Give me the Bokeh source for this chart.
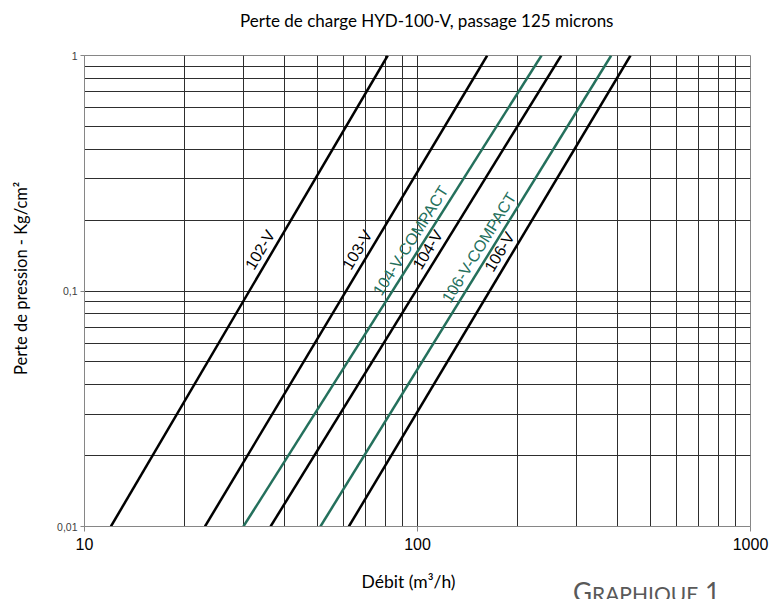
import math
from bokeh.plotting import figure
from bokeh.layouts import column
from bokeh.models import FixedTicker, ColumnDataSource, CustomJSTickFormatter, Div
from bokeh.core.properties import value
from bokeh.embed import file_html
from bokeh.resources import INLINE

# ---------------- data ----------------
series_names = ["102-V", "103-V", "104-V-COMPACT", "104-V", "106-V-COMPACT", "106-V"]
pressure_ends = [0.01, 1.0]                       # Kg/cm2 at both ends of each line
flow_at_low = [12.0, 23.0, 30.0, 36.2, 51.1, 62.2]        # m3/h at 0.01 Kg/cm2
flow_at_high = [81.4, 161.9, 235.7, 270.1, 381.6, 436.1]  # m3/h at 1 Kg/cm2
label_pressure = [0.142, 0.142, 0.155, 0.142, 0.145, 0.139]
series_colors = ["#000000", "#000000", "#24705C", "#000000", "#24705C", "#000000"]

x_major_ticks = [10, 100, 1000]
x_minor_ticks = [20, 30, 40, 50, 60, 70, 80, 90, 200, 300, 400, 500, 600, 700, 800, 900]
x_tick_labels = ["10", "100", "1000"]
y_major_ticks = [0.01, 0.1, 1]
y_minor_ticks = [0.02, 0.03, 0.04, 0.05, 0.06, 0.07, 0.08, 0.09,
                 0.2, 0.3, 0.4, 0.5, 0.6, 0.7, 0.8, 0.9]
y_tick_labels = ["0,01", "0,1", "1"]

title_text = "Perte de charge HYD-100-V, passage 125 microns"
x_title = "Débit (m³/h)"
y_title = "Perte de pression - Kg/cm²"
caption_first, caption_rest, caption_num = "G", "raphique", " 1"

# ---------------- layout sizes ----------------
W = 771
TITLE_H = 40
H = 599 - TITLE_H
BL, BR, BT, BB = 84, 21, 15, 73
NBSP = "\u00a0"

# ---------------- title (HTML, above the figure) ----------------
title_div = Div(
    text=('<div style="font-family:Lato; font-size:17px; line-height:42px; color:#000000; '
          'white-space:nowrap; padding-left:240px;">' + title_text + '</div>'),
    width=W, height=TITLE_H, margin=(0, 0, 0, 0),
)

# ---------------- figure ----------------
p = figure(width=W, height=H, x_axis_type="log", y_axis_type="log",
           x_range=(10, 1000), y_range=(0.01, 1),
           output_backend="svg", toolbar_location=None,
           min_border_left=BL, min_border_right=BR, min_border_top=BT, min_border_bottom=BB)

p.outline_line_color = "#868686"
p.outline_line_width = 1
p.background_fill_color = "white"
p.border_fill_color = "white"

p.xaxis.ticker = FixedTicker(ticks=x_major_ticks, minor_ticks=x_minor_ticks)
p.yaxis.ticker = FixedTicker(ticks=y_major_ticks, minor_ticks=y_minor_ticks)

fmt_code = """
let best = 0; let bd = 1e9;
for (let i = 0; i < vals.length; i++) {
  const d = Math.abs(Math.log10(tick) - Math.log10(vals[i]));
  if (d < bd) { bd = d; best = i; }
}
return labs[best];
"""
p.xaxis.formatter = CustomJSTickFormatter(args=dict(vals=x_major_ticks, labs=x_tick_labels), code=fmt_code)
p.yaxis.formatter = CustomJSTickFormatter(args=dict(vals=y_major_ticks, labs=y_tick_labels), code=fmt_code)

for ax in (p.xaxis[0], p.yaxis[0]):
    ax.axis_line_color = "#868686"
    ax.axis_line_width = 1
    ax.major_tick_line_color = "#868686"
    ax.major_tick_in = 0
    ax.minor_tick_line_color = None
    ax.major_label_text_font = "Liberation Sans"
    ax.axis_label_text_font = "Lato"
    ax.axis_label_text_font_style = "normal"
    ax.axis_label_text_color = "#000000"

p.xaxis.major_tick_out = 5
p.xaxis.major_label_text_font_size = "16px"
p.xaxis.major_label_text_color = "#000000"
p.xaxis.major_label_standoff = 6
# trailing no-break spaces nudge the centred label a little to the left, as in the original
p.xaxis.axis_label = x_title + NBSP * 4
p.xaxis.axis_label_text_font_size = "17.5px"
p.xaxis.axis_label_standoff = 18

p.yaxis.major_tick_out = 4
p.yaxis.major_label_text_font_size = "10.5px"
p.yaxis.major_label_text_color = "#404040"
p.yaxis.major_label_standoff = 3
# leading no-break spaces lift the centred label a little above the frame centre
p.yaxis.axis_label = NBSP * 6 + y_title
p.yaxis.axis_label_text_font_size = "16.5px"
p.yaxis.axis_label_standoff = 23

for g in (p.xgrid[0], p.ygrid[0]):
    g.grid_line_color = "#2e2e2e"
    g.grid_line_width = 1
    g.minor_grid_line_color = "#2e2e2e"
    g.minor_grid_line_width = 1

# ---------------- lines ----------------
for name, q0, q1, col in zip(series_names, flow_at_low, flow_at_high, series_colors):
    p.line(x=[q0, q1], y=pressure_ends, line_color=col, line_width=2.5)

# ---------------- labels along the lines ----------------
fw = W - BL - BR
fh = H - BT - BB
xpx = fw / math.log10(1000 / 10)
ypx = fh / math.log10(1 / 0.01)
lx, ly, la = [], [], []
for q0, q1, pl in zip(flow_at_low, flow_at_high, label_pressure):
    t = math.log10(pl / pressure_ends[0]) / math.log10(pressure_ends[1] / pressure_ends[0])
    lq = 10 ** (math.log10(q0) + t * (math.log10(q1) - math.log10(q0)))
    lx.append(lq)
    ly.append(pl)
    dxp = math.log10(q1 / q0) * xpx
    dyp = math.log10(pressure_ends[1] / pressure_ends[0]) * ypx
    la.append(math.atan2(dyp, dxp))

src = ColumnDataSource(dict(x=lx, y=ly, text=series_names, angle=la, color=series_colors))
p.text(x="x", y="y", text="text", angle="angle", text_color="color", source=src,
       text_align="center", text_baseline="bottom", x_offset=-3, y_offset=-1,
       text_font=value("Liberation Sans"), text_font_size="16px")

# ---------------- "Graphique 1" caption (small caps, cut by the page edge) ----------------
caption = Div(
    text=('<div style="font-family:Lato; font-size:26px; line-height:26px; '
          'color:#595959; white-space:nowrap;">' + caption_first
          + '<span style="font-variant:small-caps; font-size:29.5px;">' + caption_rest
          + '</span>' + caption_num + '</div>'),
    width=190, height=21, margin=(-21, 0, 0, 573),
    styles={"overflow": "hidden", "position": "relative", "z-index": "10"},
)

layout = column(title_div, p, caption, spacing=0)

open("out.html", "w").write(file_html(layout, INLINE))
